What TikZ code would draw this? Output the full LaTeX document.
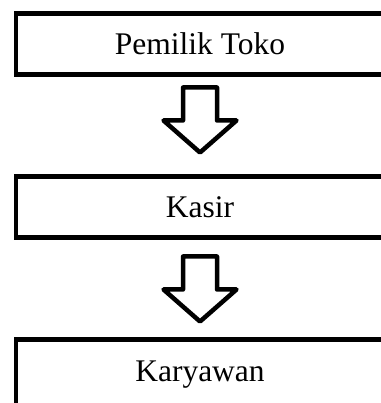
\documentclass[tikz,border=0pt]{standalone}
\usepackage{fontspec}
\setmainfont{Liberation Serif}
\usetikzlibrary{positioning, calc}

\begin{document}
\begin{tikzpicture}[
    x=1pt, y=1pt,
    node distance=102pt,
    box/.style={draw, line width=4.5pt, minimum width=368pt, minimum height=61pt,
                outer sep=0pt, inner sep=0pt, font=\fontsize{31.5}{36}\selectfont},
    arr/.pic={\draw[line width=4.5pt, line join=round]
                (-17,0) -- (17,0) -- (17,-33) -- (36.5,-33) -- (0,-65)
                -- (-36.5,-33) -- (-17,-33) -- cycle;}
  ]
  \useasboundingbox (0,0) rectangle (380,403);
  \node[box] (pemilik) at (200,359) {Pemilik Toko};
  \node[box, below=of pemilik] (kasir) {Kasir};
  % last box runs off the page
  \node[box, below=of kasir, text height=42pt, text depth=40pt] (karyawan) {Karyawan};
  \pic at ($(pemilik.south)+(0,-13)$) {arr};
  \pic at ($(kasir.south)+(0,-19)$) {arr};
\end{tikzpicture}
\end{document}
